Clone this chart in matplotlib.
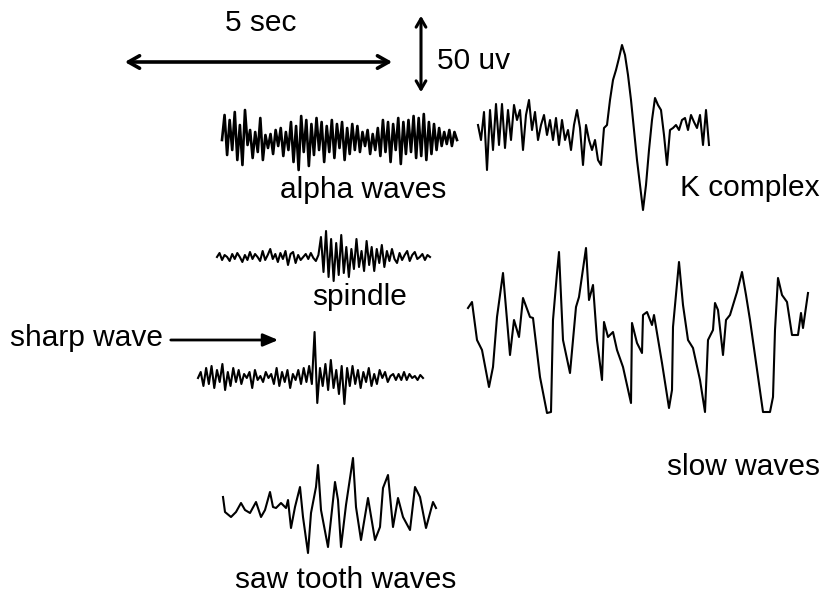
import matplotlib
matplotlib.use("Agg")
import matplotlib.pyplot as plt
import numpy as np

plt.rcParams['font.family'] = ['Liberation Sans', 'DejaVu Sans']

# trace amplitudes (pixel-like units, positive = up), sampled evenly in time
alpha = [0, 25, -15, 20, -10, 28, -20, 15, -25, 30, -5, 10, -18, 8, -12, 22, -20, 5,
         -8, 6, -14, 10, -6, 12, -16, 8, -10, 18, -22, 14, -30, 24, -12, 20, -26, 16,
         -15, 22, -10, 18, -22, 14, -12, 20, -18, 16, -8, 18, -20, 12, -14, 16, -10,
         14, -12, 8, -6, 10, -14, 6, -10, 12, -16, 20, -12, 18, -22, 16, -10, 22, -24,
         18, -14, 20, -12, 24, -18, 22, -16, 26, -20, 18, -14, 16, -10, 12, -6, 8, -4,
         10, -6, 8, 0]
spindle = [0, 4, -3, 2, 0, -4, 3, -2, 4, 0, -5, 2, -3, 5, -2, 3, 0, -4, 6, -3, 2, 8,
           -2, 3, -5, 4, -2, 6, -8, 3, 5, -6, 2, -3, 0, 3, -2, 4, -1, -4, 2, 20, -15,
           26, -20, 18, -24, 14, -18, 22, -16, 10, -20, 8, -12, 18, -10, 6, -14, 16, -8,
           10, -14, 8, -6, 12, -10, 6, -4, 8, -2, -6, 4, -3, 2, 6, -4, 2, 5, -2, 0, 3,
           -3, 2, 0]
sharp = [0, 6, -8, 10, -6, 12, -10, 8, -4, 14, -12, 6, -8, 10, -4, 8, -6, 4, 0, 6,
         -10, 8, -2, 2, -4, 6, 0, 4, -6, 10, -8, 6, -4, 8, -10, 4, -2, 8, -6, 10, -4,
         12, -6, 46, -25, 10, -8, 14, -12, 18, -10, 8, -16, 12, -26, 10, -8, 12, -6, 8,
         -10, 6, -4, 10, -8, 4, -6, 8, 0, 6, -4, 2, 4, -2, 4, -2, 6, -2, 4, 0, 2, -2, 3, 0]
kcomplex = [5, -10, 18, -40, 20, -20, 26, -15, 26, -18, 20, -10, 25, 10, 20, -20, 15,
            30, 0, 18, -10, 5, 15, -5, 10, -10, 12, -15, 10, -10, 0, -20, 5, 20, 2, -35,
            5, -10, -20, -10, -30, -35, 2, 5, 30, 50, 60, 72, 85, 75, 55, 30, 0, -30,
            -55, -80, -55, -20, 10, 32, 25, 20, -5, -35, 0, 2, 5, 0, 10, 12, 0, 15, 8, 2,
            15, -15, 20, -15]

# unevenly sampled traces: time offsets and amplitudes
slow_t = [0, 4, 9, 14, 21, 25, 29, 35, 42, 46, 51, 55, 62, 65, 72, 79, 83, 85, 89, 91,
          95, 102, 108, 111, 118, 121, 125, 129, 134, 136, 140, 145, 149, 155, 163, 164,
          169, 174, 175, 179, 184, 186, 194, 201, 204, 205, 211, 215, 220, 225, 232,
          237, 240, 245, 247, 250, 255, 258, 262, 269, 274, 278, 282, 295, 302, 305,
          307, 310, 314, 319, 324, 330, 333, 335, 340]
slow_v = [22, 28, -10, -20, -57, -37, 13, 57, -25, 10, -7, 32, 13, 12, -47, -83, -82,
          10, 57, 78, -10, -43, 23, 33, 82, 30, 45, -10, -50, 8, -7, -2, -20, -37, -73,
          7, -13, -23, 15, 18, 5, 15, -33, -78, -60, 3, 68, 25, -10, -18, -50, -82, -10,
          0, 27, 20, -25, 10, 15, 38, 58, 35, 10, -82, -82, -67, 0, 52, 35, 28, -5, -5,
          17, 2, 37]
saw_t = [0, 2, 8, 13, 18, 22, 27, 33, 38, 42, 47, 50, 53, 58, 63, 65, 68, 72, 77, 80,
         85, 88, 93, 95, 98, 105, 112, 115, 118, 123, 130, 133, 138, 145, 152, 157, 160,
         165, 170, 175, 180, 187, 192, 197, 203, 210, 213]
saw_v = [11, -4, -9, -4, 5, -2, -5, 6, -9, -2, 16, 1, 0, 5, 0, 8, -20, 1, 21, -9, -45,
         -5, 21, 43, -2, -39, 26, 8, -39, 3, 50, 1, -32, 10, -32, -19, 20, 33, -19, 10,
         -9, -22, 21, 11, -20, 6, 0]

fig = plt.figure(figsize=(8.26, 5.99), dpi=100)
ax = fig.add_axes([0, 0, 1, 1])
ax.set_xlim(0, 826)
ax.set_ylim(599, 0)
ax.axis('off')

lw = 1.5
# evenly sampled traces: (values, x start, x end, baseline)
for vals, x0, x1, base, w in [(alpha, 222, 457, 140, 1.9), (spindle, 217, 430, 257, lw),
                              (sharp, 198, 423, 378, lw), (kcomplex, 478, 709, 130, lw)]:
    xs = np.linspace(x0, x1, len(vals))
    ax.plot(xs, base - np.array(vals), color='black', lw=w)

ax.plot(468 + np.array(slow_t), 330 - np.array(slow_v), color='black', lw=lw)
ax.plot(223 + np.array(saw_t), 508 - np.array(saw_v), color='black', lw=lw)

# scale bars
ax.annotate('', xy=(122, 62), xytext=(395, 62),
            arrowprops=dict(arrowstyle='<->,head_length=0.8,head_width=0.45', lw=2.6, color='black'))
ax.annotate('', xy=(421, 13), xytext=(421, 95),
            arrowprops=dict(arrowstyle='<->,head_length=0.6,head_width=0.35', lw=2.2, color='black'))
ax.annotate('', xy=(281, 340), xytext=(168, 340),
            arrowprops=dict(arrowstyle='-|>,head_length=0.9,head_width=0.38', lw=2.0, color='black'))

fs = 21.5
ax.text(261, 23, '5 sec', fontsize=fs, ha='center', va='center')
ax.text(437, 61, '50 uv', fontsize=fs, ha='left', va='center')
ax.text(280, 190, 'alpha waves', fontsize=fs, ha='left', va='center')
ax.text(680, 188, 'K complex', fontsize=fs, ha='left', va='center')
ax.text(312, 297, 'spindle', fontsize=fs, ha='left', va='center')
ax.text(10, 338, 'sharp wave', fontsize=fs, ha='left', va='center')
ax.text(667, 467, 'slow waves', fontsize=fs, ha='left', va='center')
ax.text(235, 580, 'saw tooth waves', fontsize=fs, ha='left', va='center')

fig.savefig('out.png', dpi=100)
